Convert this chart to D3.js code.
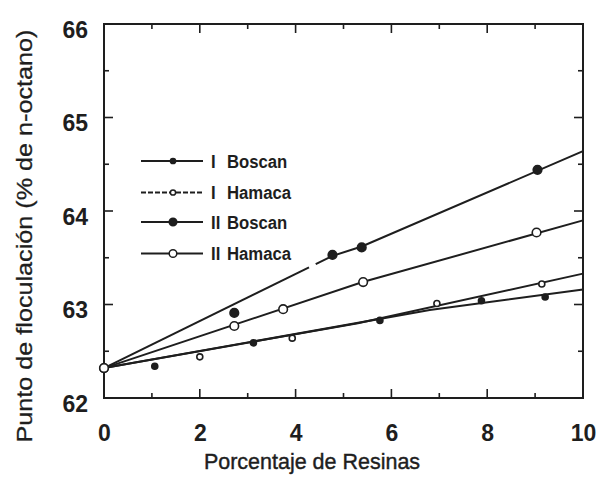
<!DOCTYPE html>
<html>
<head>
<meta charset="utf-8">
<script src="https://cdn.jsdelivr.net/npm/d3@7"></script>
<style>
  html, body { margin: 0; padding: 0; background: #fff; }
  svg { display: block; }
</style>
</head>
<body>
<svg id="chart" width="597" height="477"></svg>
<script>
// Flocculation onset vs. resin content for two crudes (Boscan, Hamaca)
const xTicks = [0, 2, 4, 6, 8, 10];
const yTicks = [62, 63, 64, 65, 66];

const seriesNames = ["I Boscan", "I Hamaca", "II Boscan", "II Hamaca"];

// measured points
const xIBoscan = [0, 1.06, 3.12, 5.76, 7.88, 9.21];
const yIBoscan = [62.32, 62.34, 62.59, 62.83, 63.04, 63.08];

const xIHamaca = [0, 2.0, 3.93, 6.95, 9.14];
const yIHamaca = [62.32, 62.44, 62.64, 63.01, 63.22];

const xIIBoscan = [0, 2.72, 4.77, 5.38, 9.05];
const yIIBoscan = [62.32, 62.91, 63.53, 63.61, 64.44];

const xIIHamaca = [0, 2.72, 3.74, 5.41, 9.03];
const yIIHamaca = [62.32, 62.77, 62.95, 63.24, 63.77];

// drawn trend lines (knots along each line)
const trendXIBoscan = [0, 6.8, 10];
const trendYIBoscan = [62.32, 62.94, 63.16];

const trendXIHamaca = [0, 5.3, 10];
const trendYIHamaca = [62.32, 62.80, 63.33];

const trendXIIBoscan = [0, 4.77, 5.38, 10];
const trendYIIBoscan = [62.32, 63.52, 63.62, 64.64];

const trendXIIHamaca = [0, 5.4, 10];
const trendYIIHamaca = [62.32, 63.24, 63.90];

// short break in the II Boscan line
const gapIIBoscan = [4.28, 4.42];

const W = 597, H = 477;
const margin = { top: 24, right: 14, bottom: 79, left: 104 };
const iw = W - margin.left - margin.right;
const ih = H - margin.top - margin.bottom;

const svg = d3.select("#chart");
const g = svg.append("g").attr("transform", `translate(${margin.left},${margin.top})`);

const x = d3.scaleLinear().domain([0, 10]).range([0, iw]);
const y = d3.scaleLinear().domain([62, 66]).range([ih, 0]);

const ink = "#1e1e1e";
const fontFam = "Arial, 'Liberation Sans', Helvetica, sans-serif";

// frame
g.append("rect")
  .attr("x", 0).attr("y", 0).attr("width", iw).attr("height", ih)
  .attr("fill", "none").attr("stroke", ink).attr("stroke-width", 2);

// inward ticks on all four sides
const xMinor = d3.range(1, 10, 2);
const yMinor = [62.5, 63.5, 64.5, 65.5];
const majorLen = 9, minorLen = 5;

function tickLines(vals, len, side) {
  vals.forEach(v => {
    let x1, y1, x2, y2;
    if (side === "bottom") { x1 = x2 = x(v); y1 = ih; y2 = ih - len; }
    if (side === "top") { x1 = x2 = x(v); y1 = 0; y2 = len; }
    if (side === "left") { y1 = y2 = y(v); x1 = 0; x2 = len; }
    if (side === "right") { y1 = y2 = y(v); x1 = iw; x2 = iw - len; }
    g.append("line")
      .attr("x1", x1).attr("y1", y1).attr("x2", x2).attr("y2", y2)
      .attr("stroke", ink).attr("stroke-width", 1.6);
  });
}
["bottom", "top"].forEach(s => { tickLines(xTicks, majorLen, s); tickLines(xMinor, minorLen, s); });
["left", "right"].forEach(s => { tickLines(yTicks, majorLen, s); tickLines(yMinor, minorLen, s); });

// tick labels from d3 axes (tick marks drawn above)
const xAxis = g.append("g").attr("transform", `translate(0,${ih})`)
  .call(d3.axisBottom(x).tickValues(xTicks).tickSize(0).tickPadding(27).tickFormat(d3.format("d")));
const yAxis = g.append("g")
  .call(d3.axisLeft(y).tickValues(yTicks).tickSize(0).tickPadding(16).tickFormat(d3.format("d")));
[xAxis, yAxis].forEach(a => {
  a.select(".domain").remove();
  a.selectAll("text")
    .attr("fill", ink)
    .style("font-family", fontFam)
    .style("font-weight", "bold")
    .style("font-size", "23px");
});
yAxis.selectAll("text").attr("dy", "0.58em");

// axis titles
svg.append("text")
  .attr("transform", "translate(312,469) scale(1,1.05)")
  .attr("text-anchor", "middle")
  .attr("fill", ink).attr("stroke", ink).attr("stroke-width", 0.4)
  .style("font-family", fontFam).style("font-size", "21.5px")
  .text("Porcentaje de Resinas");

svg.append("text")
  .attr("transform", "translate(32,236) rotate(-90) scale(1.12,1)")
  .attr("text-anchor", "middle")
  .attr("fill", ink).attr("stroke", ink).attr("stroke-width", 0.3)
  .style("font-family", fontFam).style("font-size", "22.5px")
  .text("Punto de floculación (% de n-octano)");

// series
const series = [
  { name: seriesNames[0], xs: xIBoscan, ys: yIBoscan, tx: trendXIBoscan, ty: trendYIBoscan, filled: true, r: 3, lr: 2.6, dash: null },
  { name: seriesNames[1], xs: xIHamaca, ys: yIHamaca, tx: trendXIHamaca, ty: trendYIHamaca, filled: false, r: 3, lr: 2.6, dash: "5,2" },
  { name: seriesNames[2], xs: xIIBoscan, ys: yIIBoscan, tx: trendXIIBoscan, ty: trendYIIBoscan, filled: true, r: 4.3, lr: 3.8, dash: null, gap: gapIIBoscan },
  { name: seriesNames[3], xs: xIIHamaca, ys: yIIHamaca, tx: trendXIIHamaca, ty: trendYIIHamaca, filled: false, r: 4.3, lr: 3.8, dash: null }
];

const line = d3.line().x(d => x(d[0])).y(d => y(d[1]));

// value of a trend polyline at xv
function trendAt(s, xv) {
  for (let i = 1; i < s.tx.length; i++) {
    if (xv <= s.tx[i]) {
      const t = (xv - s.tx[i - 1]) / (s.tx[i] - s.tx[i - 1]);
      return s.ty[i - 1] + t * (s.ty[i] - s.ty[i - 1]);
    }
  }
  return s.ty[s.ty.length - 1];
}

series.forEach(s => {
  const pts = s.tx.map((v, i) => [v, s.ty[i]]);
  let pieces = [pts];
  if (s.gap) {
    const a = [...pts.filter(p => p[0] < s.gap[0]), [s.gap[0], trendAt(s, s.gap[0])]];
    const b = [[s.gap[1], trendAt(s, s.gap[1])], ...pts.filter(p => p[0] > s.gap[1])];
    pieces = [a, b];
  }
  pieces.forEach(p => {
    g.append("path")
      .datum(p)
      .attr("d", line)
      .attr("fill", "none")
      .attr("stroke", ink)
      .attr("stroke-width", 2);
  });
});

series.forEach(s => {
  g.selectAll(null)
    .data(s.xs.map((v, i) => [v, s.ys[i]]))
    .enter().append("circle")
    .attr("cx", d => x(d[0]))
    .attr("cy", d => y(d[1]))
    .attr("r", s.r)
    .attr("fill", s.filled ? ink : "#fff")
    .attr("stroke", ink)
    .attr("stroke-width", 1.6);
});

// legend
const legend = svg.append("g").attr("transform", "translate(141,161)");
const rowY = [0, 31.5, 61, 92.5];
series.forEach((s, i) => {
  const row = legend.append("g").attr("transform", `translate(0,${rowY[i]})`);
  row.append("line")
    .attr("x1", 0).attr("x2", 62).attr("y1", 0).attr("y2", 0)
    .attr("stroke", ink).attr("stroke-width", 1.8)
    .attr("stroke-dasharray", s.dash);
  row.append("circle")
    .attr("cx", 32).attr("cy", 0).attr("r", s.lr)
    .attr("fill", s.filled ? ink : "#fff")
    .attr("stroke", ink).attr("stroke-width", 1.5);
  const parts = s.name.split(" ");
  row.append("text")
    .attr("transform", "translate(70,0) scale(0.88,1)")
    .attr("dy", "0.36em")
    .attr("fill", ink)
    .style("font-family", fontFam).style("font-weight", "bold").style("font-size", "19px")
    .text(parts[0]);
  row.append("text")
    .attr("transform", "translate(86,0) scale(0.88,1)")
    .attr("dy", "0.36em")
    .attr("fill", ink)
    .style("font-family", fontFam).style("font-weight", "bold").style("font-size", "19px")
    .text(parts[1]);
});
</script>
</body>
</html>
